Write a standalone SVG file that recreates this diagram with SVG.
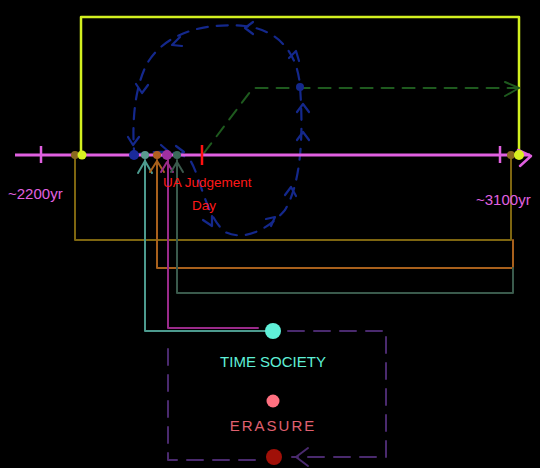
<svg xmlns="http://www.w3.org/2000/svg" width="540" height="468" viewBox="0 0 540 468">
<style>
.c{fill:none;stroke-linecap:round;stroke-linejoin:round}
.blue{stroke:#14288c;stroke-width:2.2}
.t{font-family:"Comic Sans MS","Liberation Sans",sans-serif}
</style>
<rect width="540" height="468" fill="#000"/>
<g id="connectors">
  <!-- yellow top loop -->
  <polyline class="c" points="81,155 81,17 519,17 519,155" stroke="#d2f020" stroke-width="2.5"/>
  <!-- olive -->
  <polyline class="c" points="75,156 75,240 511,240 511,156" stroke="#7e6610" stroke-width="2"/>
  <!-- orange -->
  <polyline class="c" points="157,160 157,268 513,268 513,240" stroke="#a8601c" stroke-width="2"/>
  <!-- gray green -->
  <polyline class="c" points="177,160 177,293 513,293 513,268" stroke="#3a5a4c" stroke-width="2"/>
  <!-- teal -->
  <polyline class="c" points="145,160 145,331 266,331" stroke="#4c9a8e" stroke-width="2"/>
  <!-- magenta -->
  <polyline class="c" points="168,160 168,328 258,328" stroke="#9a2a8a" stroke-width="2"/>
  <!-- up chevrons -->
  <polyline class="c" points="138,173 145,161 152,173" stroke="#4c9a8e" stroke-width="2"/>
  <polyline class="c" points="150,172 157,161 164,172" stroke="#a8601c" stroke-width="2"/>
  <polyline class="c" points="161,172 167,162 173,172" stroke="#9a2a8a" stroke-width="2"/>
  <polyline class="c" points="171,172 177,162 183,172" stroke="#3a5a4c" stroke-width="2"/>
  <!-- green dashed -->
  <polyline class="c" points="204,153 253,88 518,88" stroke="#1e5a1e" stroke-width="2" stroke-dasharray="12,9"/>
  <polyline class="c" points="505,82 519,88 505,96" stroke="#1e5a1e" stroke-width="2"/>
  <!-- blue dashed loop -->
  <path class="c blue" stroke-dasharray="11,9" d="M134,155 C150,152 175,148 190,160 C200,175 205,215 225,232 C245,242 270,228 285,210 C300,185 304,140 300,87 C298,55 280,30 245,26 C200,22 165,35 148,62 C135,85 132,120 134,150"/>
  <g class="c blue">
    <polyline points="253,22 245,28 253,34"/>
    <polyline points="180,37 172,45 182,46"/>
    <polyline points="136,84 142,93 148,85"/>
    <polyline points="128,137 133,145 139,137"/>
    <polyline points="161,145 168,151 161,156"/>
    <polyline points="176,146 184,152 176,157"/>
    <polyline points="203,220 212,226 212,216"/>
    <polyline points="266,219 275,217 271,226"/>
    <polyline points="285,195 291,187 296,196"/>
    <polyline points="297,140 303,132 309,140"/>
    <polyline points="297,112 303,104 309,112"/>
    <polyline points="289,58 296,51 299,61"/>
  </g>
  <!-- purple dashed box -->
  <g class="c" stroke="#4a2a6e" stroke-width="2" stroke-dasharray="16,10">
    <polyline points="288,331 386,331 386,457 292,457"/>
    <polyline points="255,460 168,460 168,348"/>
  </g>
  <polyline class="c" points="308,448 296,457 308,466" stroke="#4a2a6e" stroke-width="2"/>
</g>
<g id="timeline">
  <line x1="15" y1="155" x2="530" y2="155" stroke="#e060e0" stroke-width="3"/>
  <polyline class="c" points="518,150 531,156 520,166" stroke="#e060e0" stroke-width="2.5"/>
  <line x1="41" y1="146" x2="41" y2="163" stroke="#e060e0" stroke-width="2.5"/>
  <line x1="500" y1="146" x2="500" y2="163" stroke="#e060e0" stroke-width="2.5"/>
  <line x1="202" y1="145" x2="202" y2="165" stroke="#ff1010" stroke-width="2.5"/>
  <circle cx="75" cy="155" r="4" fill="#8a6a20"/>
  <circle cx="82" cy="155" r="4.5" fill="#d8f020"/>
  <circle cx="511" cy="155" r="4" fill="#8a6a20"/>
  <circle cx="519" cy="155" r="5" fill="#d8f020"/>
  <circle cx="134" cy="155" r="5" fill="#1a2a9a"/>
  <circle cx="145" cy="155" r="4" fill="#5a9a90"/>
  <circle cx="157" cy="155" r="4" fill="#b06020"/>
  <circle cx="167" cy="155" r="5" fill="#a030a0"/>
  <circle cx="177" cy="155" r="4" fill="#3a6a5a"/>
  <circle cx="300" cy="87" r="4" fill="#14288c"/>
</g>
<g id="labels" class="t">
  <text x="8" y="199" font-size="15" fill="#e060e0">~2200yr</text>
  <text x="476" y="205" font-size="15" fill="#e060e0">~3100yr</text>
  <text x="163" y="187" font-size="13.5" fill="#ff1818">UA Judgement</text>
  <text x="192" y="210" font-size="13.5" fill="#ff1818">Day</text>
</g>
<g id="time-society">
  <circle cx="273" cy="331" r="8" fill="#5ff0d8"/>
  <text x="273" y="367" font-size="15" fill="#5ff0d8" text-anchor="middle" class="t">TIME SOCIETY</text>
</g>
<g id="erasure">
  <circle cx="273" cy="401" r="6.5" fill="#ff7080"/>
  <text x="273" y="431" font-size="15" fill="#e06070" text-anchor="middle" class="t" letter-spacing="2">ERASURE</text>
</g>
<g id="erasure-dot">
  <circle cx="274" cy="457" r="8" fill="#a01008"/>
</g>
</svg>
